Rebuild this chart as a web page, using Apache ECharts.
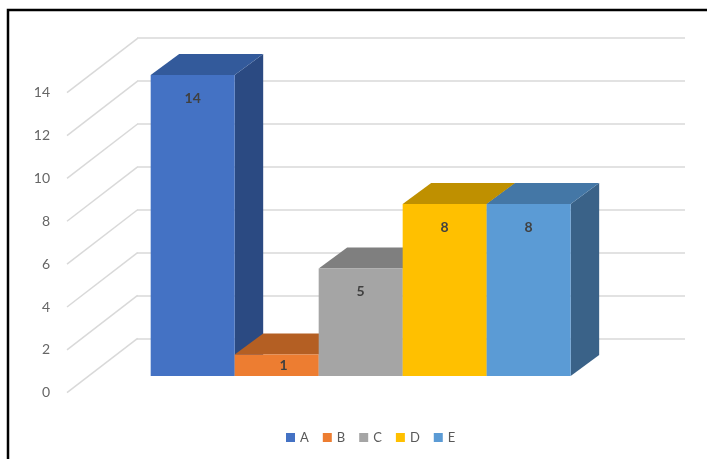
<!DOCTYPE html>
<html>
<head>
<meta charset="utf-8">
<script src="https://cdn.jsdelivr.net/npm/echarts@6/dist/echarts.min.js"></script>
<style>
  html, body { margin: 0; padding: 0; background: #fff; }
  #chart { width: 707px; height: 459px; }
</style>
</head>
<body>
<div id="chart"></div>
<script>
// Series names and their values
const categories = ['A', 'B', 'C', 'D', 'E'];
const values = [14, 1, 5, 8, 8];
// Value-axis ticks
const yTicks = [0, 2, 4, 6, 8, 10, 12, 14];

// Face colours for each box: front, top, side
const palette = {
  front: ['#4472C4', '#ED7D31', '#A5A5A5', '#FFC000', '#5B9BD5'],
  top:   ['#335A9B', '#B45F23', '#7F7F7F', '#BF9000', '#4477A6'],
  side:  ['#2B4A82', '#A0521C', '#6E6E6E', '#A57C00', '#3A6288']
};

// Oblique projection offsets (pixels)
const FLOOR_DX = 70.6, FLOOR_DY = -54.4;   // front edge -> back wall
const BOX_DX = 28.5, BOX_DY = -21;         // depth of each box

const yMin = yTicks[0];
const yMax = yTicks[yTicks.length - 1];
const yStep = yTicks[1] - yTicks[0];

const font = 'Lato, "Open Sans", "DejaVu Sans", sans-serif';

function boxRenderer(idx) {
  return function (params, api) {
    const x = api.value(0);
    const v = api.value(1);
    const tl = api.coord([x - 0.5, v]);
    const br = api.coord([x + 0.5, 0]);
    const w = br[0] - tl[0];
    const h = br[1] - tl[1];
    const top = [
      [tl[0], tl[1]],
      [br[0], tl[1]],
      [br[0] + BOX_DX, tl[1] + BOX_DY],
      [tl[0] + BOX_DX, tl[1] + BOX_DY]
    ];
    const side = [
      [br[0], tl[1]],
      [br[0] + BOX_DX, tl[1] + BOX_DY],
      [br[0] + BOX_DX, br[1] + BOX_DY],
      [br[0], br[1]]
    ];
    // short boxes: label sits in the middle of the face, nudged into depth
    const short = h < 46;
    const labelY = tl[1] + (short ? h / 2 : 23);
    const labelX = tl[0] + w / 2 + (short ? 7 : 0);
    return {
      type: 'group',
      children: [
        { type: 'polygon', shape: { points: side }, style: { fill: palette.side[idx] } },
        { type: 'polygon', shape: { points: top }, style: { fill: palette.top[idx] } },
        { type: 'rect', shape: { x: tl[0], y: tl[1], width: w, height: h }, style: { fill: palette.front[idx] } },
        {
          type: 'text',
          style: {
            text: String(v),
            x: labelX,
            y: labelY,
            align: 'center',
            verticalAlign: 'middle',
            fill: '#404040',
            font: 'bold 14px ' + font
          }
        }
      ]
    };
  };
}

const boxSeries = categories.map(function (name, i) {
  return {
    name: name,
    type: 'custom',
    xAxisIndex: 2,
    yAxisIndex: 2,
    itemStyle: { color: palette.front[i] },
    renderItem: boxRenderer(i),
    data: [[i, values[i]]],
    z: 3
  };
});

const option = {
  animation: false,
  backgroundColor: '#fff',
  graphic: [{
    type: 'rect',
    shape: { x: 8, y: 10, width: 720, height: 470 },
    style: { fill: 'none', stroke: '#000', lineWidth: 2.5 },
    z: 100
  }],
  legend: {
    data: categories,
    left: 281,
    top: 426,
    icon: 'rect',
    itemWidth: 9,
    itemHeight: 9,
    itemGap: 14,
    textStyle: { color: '#595959', fontSize: 13, fontFamily: font }
  },
  grid: [
    // back wall
    { left: 137, right: 22, top: 37.3, bottom: 120.7 },
    // front edge of the floor (axis labels)
    { left: 67, right: 92.6, top: 92.7, bottom: 66.3 },
    // front plane of the boxes
    { left: 88.7, right: 70.9, top: 75, bottom: 83 }
  ],
  xAxis: [
    { gridIndex: 0, type: 'value', min: 0, max: 1, show: false },
    { gridIndex: 1, type: 'value', min: 0, max: 1, show: false },
    { gridIndex: 2, type: 'value', min: -1.238, max: 5.279, show: false }
  ],
  yAxis: [
    {
      gridIndex: 0, type: 'value', min: yMin, max: yMax, interval: yStep,
      axisLine: { show: false }, axisTick: { show: false }, axisLabel: { show: false },
      splitLine: { show: true, lineStyle: { color: '#d9d9d9', width: 1.5 } }
    },
    {
      gridIndex: 1, type: 'value', min: yMin, max: yMax, interval: yStep,
      axisLine: { show: false }, axisTick: { show: false }, splitLine: { show: false },
      axisLabel: { show: true, margin: 17, color: '#666', fontSize: 14, fontFamily: font }
    },
    {
      gridIndex: 2, type: 'value', min: yMin, max: yMax, interval: yStep,
      show: false, splitLine: { show: false }
    }
  ],
  series: [
    {
      // side-wall lines from each tick label back to the wall
      type: 'custom',
      xAxisIndex: 1,
      yAxisIndex: 1,
      silent: true,
      data: yTicks.map(function (t) { return [0, t]; }),
      renderItem: function (params, api) {
        const p = api.coord([0, api.value(1)]);
        return {
          type: 'line',
          shape: { x1: p[0], y1: p[1], x2: p[0] + FLOOR_DX, y2: p[1] + FLOOR_DY },
          style: { stroke: '#d9d9d9', lineWidth: 1.5 }
        };
      },
      z: 1
    }
  ].concat(boxSeries)
};

const chart = echarts.init(document.getElementById('chart'));
chart.setOption(option);
</script>
</body>
</html>
